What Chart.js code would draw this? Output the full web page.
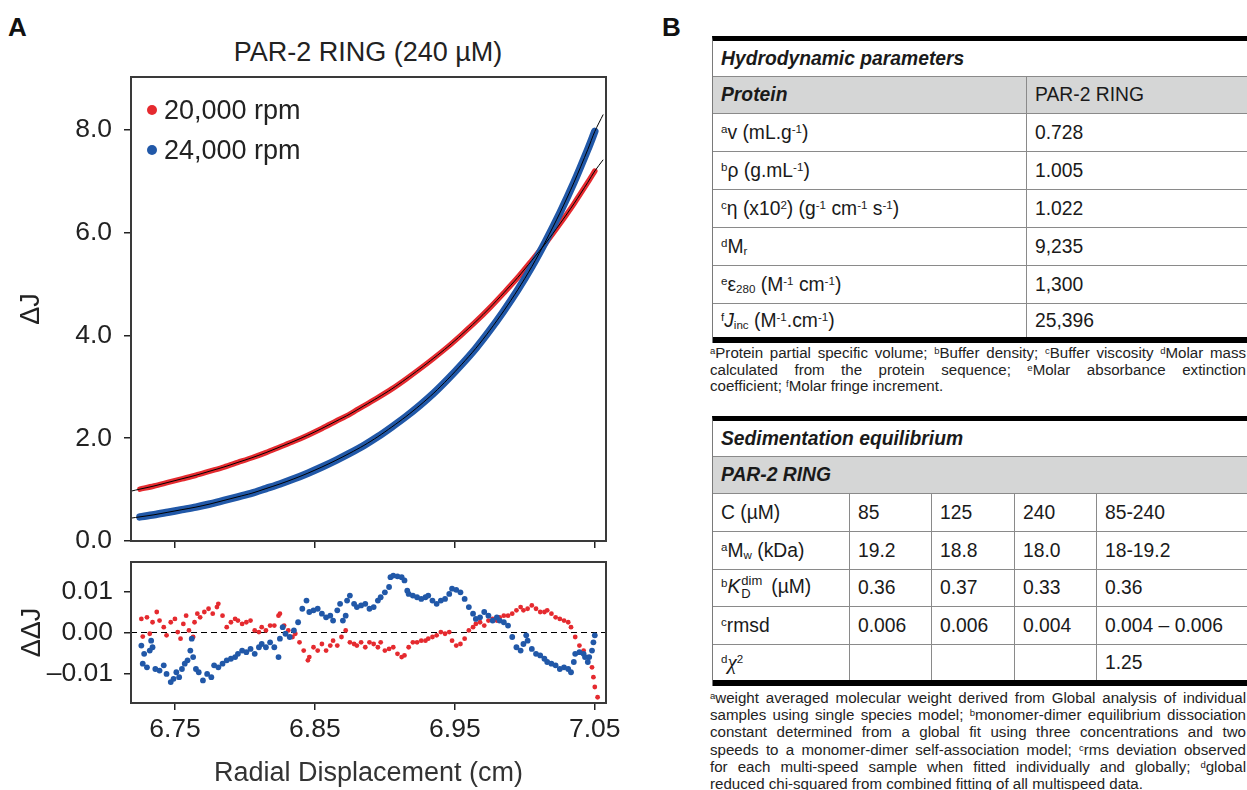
<!DOCTYPE html>
<html>
<head>
<meta charset="utf-8">
<title>PAR-2 RING sedimentation equilibrium</title>
<script src="https://cdn.jsdelivr.net/npm/chart.js@4.4.1/dist/chart.umd.min.js"></script>
<style>
  body{margin:0;width:1247px;height:790px;position:relative;background:#fff;overflow:hidden;
       font-family:'Liberation Sans',Arial,sans-serif;color:#222;}
  canvas{position:absolute;left:0;}
  .panel{position:absolute;font-weight:bold;font-size:26px;line-height:26px;color:#111;}
  .title{position:absolute;left:0;width:736px;top:36px;text-align:center;font-size:27px;line-height:32px;color:#222;}
  .legend{position:absolute;left:147px;font-size:27px;line-height:32px;color:#222;white-space:nowrap;}
  .legend span.dot{display:inline-block;width:10px;height:10px;border-radius:50%;margin-right:7px;vertical-align:middle;position:relative;top:-2px;}
  .tbl{position:absolute;left:712px;width:535px;border-top:5px solid #000;border-left:1px solid #7a7a7a;font-size:19.3px;color:#1a1a1a;}
  .row{display:flex;box-sizing:border-box;border-bottom:1px solid #8a8a8a;height:38px;}
  .row.last{border-bottom:6px solid #000;}
  .row.grey{background:#d5d6d6;}
  .cell{box-sizing:border-box;height:100%;display:flex;align-items:center;padding-left:8px;white-space:nowrap;}
  .cell+.cell{border-left:1px solid #8a8a8a;}
  .bi{font-weight:bold;font-style:italic;}
  sup,sub{font-size:0.6em;line-height:0;}
  sup{vertical-align:0.55em;}
  sub{vertical-align:-0.2em;}
  .kd{display:inline-block;vertical-align:middle;line-height:1;font-size:13px;margin-left:1px;margin-right:9px;position:relative;top:-1px;}
  .kd span{display:block;}
  .note{position:absolute;left:710px;width:536px;font-size:15.1px;color:#222;}
  .note div{text-align:justify;text-align-last:justify;}
  .note div.end{text-align:left;text-align-last:left;}
  .note sup{font-size:9.5px;vertical-align:4px;}
</style>
</head>
<body>

<div class="panel" style="left:8px;top:14px;">A</div>
<div class="panel" style="left:662px;top:14px;">B</div>
<div class="title">PAR-2 RING (240 µM)</div>

<canvas id="main" width="640" height="560" style="top:0px;"></canvas>
<canvas id="resid" width="640" height="235" style="top:555px;"></canvas>

<div class="legend" style="top:94px;"><span class="dot" style="background:#e52a2f"></span>20,000 rpm</div>
<div class="legend" style="top:134px;"><span class="dot" style="background:#2158a8"></span>24,000 rpm</div>

<!-- Hydrodynamic parameters -->
<div class="tbl" style="top:36px;">
  <div class="row" style="height:36px;"><div class="cell bi"><span>Hydrodynamic parameters</span></div></div>
  <div class="row grey" style="height:37px;"><div class="cell bi" style="width:313px;"><span>Protein</span></div><div class="cell" style="flex:1;"><span>PAR-2 RING</span></div></div>
  <div class="row"><div class="cell" style="width:313px;"><span><sup>a</sup>v (mL.g<sup>-1</sup>)</span></div><div class="cell" style="flex:1;"><span>0.728</span></div></div>
  <div class="row"><div class="cell" style="width:313px;"><span><sup>b</sup>ρ (g.mL<sup>-1</sup>)</span></div><div class="cell" style="flex:1;"><span>1.005</span></div></div>
  <div class="row"><div class="cell" style="width:313px;"><span><sup>c</sup>η (x10<sup>2</sup>) (g<sup>-1</sup> cm<sup>-1</sup> s<sup>-1</sup>)</span></div><div class="cell" style="flex:1;"><span>1.022</span></div></div>
  <div class="row"><div class="cell" style="width:313px;"><span><sup>d</sup>M<sub>r</sub></span></div><div class="cell" style="flex:1;"><span>9,235</span></div></div>
  <div class="row"><div class="cell" style="width:313px;"><span><sup>e</sup>ε<sub>280</sub> (M<sup>-1</sup> cm<sup>-1</sup>)</span></div><div class="cell" style="flex:1;"><span>1,300</span></div></div>
  <div class="row last" style="height:39px;"><div class="cell" style="width:313px;"><span><sup>f</sup><i>J</i><sub>inc</sub> (M<sup>-1</sup>.cm<sup>-1</sup>)</span></div><div class="cell" style="flex:1;"><span>25,396</span></div></div>
</div>
<div class="note" style="top:345px;line-height:16.7px;">
  <div><sup>a</sup>Protein partial specific volume; <sup>b</sup>Buffer density; <sup>c</sup>Buffer viscosity <sup>d</sup>Molar mass</div>
  <div>calculated from the protein sequence; <sup>e</sup>Molar absorbance extinction</div>
  <div class="end">coefficient; <sup>f</sup>Molar fringe increment.</div>
</div>

<!-- Sedimentation equilibrium -->
<div class="tbl" style="top:416px;">
  <div class="row" style="height:36px;"><div class="cell bi"><span>Sedimentation equilibrium</span></div></div>
  <div class="row grey" style="height:37px;"><div class="cell bi"><span>PAR-2 RING</span></div></div>
  <div class="row"><div class="cell" style="width:136px;"><span>C (µM)</span></div><div class="cell" style="width:82px;"><span>85</span></div><div class="cell" style="width:83px;"><span>125</span></div><div class="cell" style="width:82px;"><span>240</span></div><div class="cell" style="flex:1;"><span>85-240</span></div></div>
  <div class="row"><div class="cell" style="width:136px;"><span><sup>a</sup>M<sub>w</sub> (kDa)</span></div><div class="cell" style="width:82px;"><span>19.2</span></div><div class="cell" style="width:83px;"><span>18.8</span></div><div class="cell" style="width:82px;"><span>18.0</span></div><div class="cell" style="flex:1;"><span>18-19.2</span></div></div>
  <div class="row" style="height:37px;"><div class="cell" style="width:136px;"><span><sup>b</sup><i>K</i><span class="kd"><span>dim</span><span>D</span></span>(µM)</span></div><div class="cell" style="width:82px;"><span>0.36</span></div><div class="cell" style="width:83px;"><span>0.37</span></div><div class="cell" style="width:82px;"><span>0.33</span></div><div class="cell" style="flex:1;"><span>0.36</span></div></div>
  <div class="row"><div class="cell" style="width:136px;"><span><sup>c</sup>rmsd</span></div><div class="cell" style="width:82px;"><span>0.006</span></div><div class="cell" style="width:83px;"><span>0.006</span></div><div class="cell" style="width:82px;"><span>0.004</span></div><div class="cell" style="flex:1;"><span>0.004 – 0.006</span></div></div>
  <div class="row last" style="height:41px;"><div class="cell" style="width:136px;"><span><sup>d</sup><i style="font-family:'Liberation Serif',serif;font-size:21px;">χ</i><sup>2</sup></span></div><div class="cell" style="width:82px;"></div><div class="cell" style="width:83px;"></div><div class="cell" style="width:82px;"></div><div class="cell" style="flex:1;"><span>1.25</span></div></div>
</div>
<div class="note" style="top:689px;line-height:17.2px;">
  <div><sup>a</sup>weight averaged molecular weight derived from Global analysis of individual</div>
  <div>samples using single species model; <sup>b</sup>monomer-dimer equilibrium dissociation</div>
  <div>constant determined from a global fit using three concentrations and two</div>
  <div>speeds to a monomer-dimer self-association model; <sup>c</sup>rms deviation observed</div>
  <div>for each multi-speed sample when fitted individually and globally; <sup>d</sup>global</div>
  <div class="end">reduced chi-squared from combined fitting of all multispeed data.</div>
</div>

<script>
// === данные: радиус (cm) и ΔJ для двух скоростей ===
const radius=[6.725,6.735,6.745,6.755,6.765,6.775,6.785,6.795,6.805,6.815,6.825,6.835,6.845,6.855,6.865,6.875,6.885,
  6.895,6.905,6.915,6.925,6.935,6.945,6.955,6.965,6.975,6.985,6.995,7.005,7.015,7.025,7.035,7.045,7.05];
const dj20k=[1.01,1.07,1.14,1.21,1.28,1.36,1.44,1.53,1.62,1.72,1.83,1.94,2.06,2.19,2.33,2.47,2.63,
  2.79,2.96,3.15,3.35,3.56,3.78,4.02,4.27,4.54,4.83,5.13,5.46,5.80,6.17,6.56,6.98,7.20];
const dj24k=[0.47,0.51,0.56,0.61,0.66,0.72,0.79,0.86,0.93,1.02,1.11,1.21,1.32,1.44,1.57,1.71,1.86,
  2.03,2.22,2.42,2.64,2.88,3.15,3.44,3.75,4.10,4.48,4.89,5.34,5.84,6.38,6.97,7.62,7.97];
// fit line runs a little past the data at both ends
const fitRadiusEnds=[6.7186,7.056];
const fit20kEnds=[0.97,7.42];
const fit24kEnds=[0.445,8.30];

// === остатки (radius, ΔΔJ) ===
const res20k=[[6.726,0.0033],[6.727,-0.0010],[6.730,0.0037],[6.732,-0.0003],[6.734,0.0025],[6.737,0.0050],[6.739,0.0029],
  [6.742,0.0013],[6.744,-0.0007],[6.747,0.0025],[6.750,0.0033],[6.752,0.0001],[6.754,-0.0015],[6.756,0.0021],[6.758,0.0041],
  [6.760,0.0005],[6.763,-0.0011],[6.764,0.0025],[6.766,0.0046],[6.768,0.0037],[6.771,0.0050],[6.774,0.0058],[6.777,0.0046],
  [6.780,0.0062],[6.781,0.0070],[6.784,0.0041],[6.787,0.0013],[6.790,0.0025],[6.793,0.0033],[6.795,0.0029],[6.798,0.0021],
  [6.801,0.0025],[6.804,0.0029],[6.807,0.0005],[6.810,0.0001],[6.812,0.0013],[6.815,0.0005],[6.818,0.0017],[6.821,0.0017],
  [6.824,0.0041],[6.825,0.0046],[6.828,0.0017],[6.831,0.0005],[6.834,-0.0011],[6.836,-0.0003],[6.839,-0.0024],[6.842,-0.0044],
  [6.845,-0.0068],[6.846,-0.0060],[6.849,-0.0036],[6.852,-0.0044],[6.855,-0.0028],[6.858,-0.0044],[6.861,-0.0032],[6.863,-0.0020],
  [6.866,-0.0032],[6.869,-0.0011],[6.872,0.0005],[6.875,-0.0024],[6.878,-0.0028],[6.880,-0.0032],[6.883,-0.0024],[6.886,-0.0036],
  [6.889,-0.0024],[6.892,-0.0028],[6.895,-0.0036],[6.897,-0.0024],[6.900,-0.0044],[6.903,-0.0040],[6.906,-0.0036],[6.909,-0.0052],
  [6.912,-0.0060],[6.914,-0.0056],[6.917,-0.0036],[6.920,-0.0024],[6.923,-0.0024],[6.926,-0.0020],[6.929,-0.0020],[6.931,-0.0015],
  [6.934,-0.0011],[6.937,-0.0007],[6.940,0.0001],[6.943,-0.0003],[6.946,0.0001],[6.948,-0.0020],[6.951,-0.0032],[6.954,-0.0028],
  [6.957,-0.0015],[6.960,0.0005],[6.963,0.0013],[6.965,0.0021],[6.968,0.0025],[6.971,0.0017],[6.974,0.0029],[6.977,0.0033],
  [6.980,0.0029],[6.982,0.0037],[6.985,0.0041],[6.988,0.0041],[6.991,0.0046],[6.994,0.0054],[6.997,0.0062],[6.999,0.0054],
  [7.002,0.0058],[7.005,0.0066],[7.008,0.0058],[7.011,0.0050],[7.014,0.0050],[7.016,0.0054],[7.019,0.0046],[7.022,0.0037],
  [7.025,0.0033],[7.028,0.0029],[7.031,0.0025],[7.033,0.0013],[7.036,-0.0011],[7.039,-0.0032],[7.042,-0.0044],[7.045,-0.0060],
  [7.048,-0.0085],[7.049,-0.0109],[7.050,-0.0133],[7.052,-0.0158]];
const res24k=[[6.726,-0.0032],[6.727,-0.0076],[6.728,-0.0052],[6.730,-0.0085],[6.732,-0.0044],[6.733,-0.0020],[6.734,-0.0036],
  [6.736,-0.0089],[6.739,-0.0093],[6.742,-0.0080],[6.744,-0.0101],[6.747,-0.0121],[6.749,-0.0113],[6.751,-0.0097],[6.753,-0.0109],
  [6.755,-0.0089],[6.757,-0.0076],[6.759,-0.0068],[6.761,-0.0044],[6.762,-0.0015],[6.763,-0.0060],[6.765,-0.0089],[6.767,-0.0097],
  [6.770,-0.0117],[6.773,-0.0101],[6.776,-0.0109],[6.778,-0.0080],[6.781,-0.0085],[6.784,-0.0076],[6.787,-0.0068],[6.790,-0.0064],
  [6.793,-0.0060],[6.795,-0.0052],[6.798,-0.0044],[6.801,-0.0048],[6.804,-0.0040],[6.807,-0.0052],[6.810,-0.0036],[6.812,-0.0028],
  [6.815,-0.0036],[6.818,-0.0024],[6.821,-0.0036],[6.824,-0.0060],[6.825,-0.0015],[6.827,0.0013],[6.829,-0.0003],[6.832,-0.0011],
  [6.835,0.0005],[6.838,0.0025],[6.841,0.0058],[6.844,0.0078],[6.846,0.0050],[6.849,0.0054],[6.852,0.0058],[6.855,0.0046],
  [6.858,0.0037],[6.861,0.0041],[6.863,0.0029],[6.866,0.0054],[6.868,0.0070],[6.870,0.0029],[6.872,0.0041],[6.873,0.0078],
  [6.875,0.0090],[6.878,0.0070],[6.880,0.0062],[6.883,0.0066],[6.886,0.0070],[6.889,0.0058],[6.892,0.0062],[6.895,0.0078],
  [6.897,0.0086],[6.900,0.0098],[6.903,0.0111],[6.904,0.0135],[6.906,0.0139],[6.909,0.0137],[6.912,0.0135],[6.914,0.0127],
  [6.916,0.0102],[6.917,0.0094],[6.920,0.0090],[6.923,0.0086],[6.926,0.0082],[6.929,0.0086],[6.931,0.0090],[6.934,0.0078],
  [6.937,0.0070],[6.940,0.0078],[6.943,0.0082],[6.946,0.0094],[6.948,0.0107],[6.951,0.0104],[6.954,0.0098],[6.957,0.0082],
  [6.960,0.0062],[6.963,0.0046],[6.965,0.0033],[6.968,0.0037],[6.971,0.0050],[6.974,0.0041],[6.977,0.0029],[6.980,0.0037],
  [6.982,0.0029],[6.985,0.0025],[6.988,0.0017],[6.991,-0.0011],[6.994,-0.0036],[6.997,-0.0044],[6.999,-0.0028],[7.001,-0.0007],
  [7.002,-0.0020],[7.005,-0.0040],[7.008,-0.0052],[7.011,-0.0056],[7.014,-0.0064],[7.016,-0.0072],[7.019,-0.0076],[7.022,-0.0080],
  [7.025,-0.0089],[7.028,-0.0085],[7.031,-0.0089],[7.033,-0.0097],[7.035,-0.0072],[7.036,-0.0052],[7.039,-0.0048],[7.042,-0.0052],
  [7.043,-0.0060],[7.045,-0.0072],[7.046,-0.0060],[7.048,-0.0044],[7.049,-0.0024],[7.050,-0.0007]];

// === оси ===
const xRange=[6.7186,7.058];
const xTicks=[6.75,6.85,6.95,7.05];
const xTickLabels=['6.75','6.85','6.95','7.05'];
const djRange=[0,9.03];
const djTicks=[0,2,4,6,8];
const djTickLabels=['0.0','2.0','4.0','6.0','8.0'];
const resRange=[-0.0172,0.0172];
const resTicks=[-0.01,0,0.01];
const resTickLabels=['\u20130.01','0.00','0.01'];

const RED='#e52a2f', BLUE='#2158a8';
Chart.defaults.font.family="'Liberation Sans', Arial, sans-serif";
Chart.defaults.color='#222';

function pts(xs,ys){ return xs.map((x,i)=>({x:x,y:ys[i]})); }
function fixTicks(vals){ return s=>{ s.ticks=vals.map(v=>({value:v})); }; }
function tickText(vals,labels){ return v=>labels[vals.indexOf(v)]; }

// рамка вокруг области графика
const frame={
  id:'frame',
  afterDatasetsDraw(chart){
    const {ctx,chartArea:a}=chart;
    ctx.save();
    ctx.strokeStyle='#3a3a3a';ctx.lineWidth=2;
    ctx.strokeRect(a.left,a.top,a.right-a.left,a.bottom-a.top);
    ctx.restore();
  }
};
const tickGrid={drawOnChartArea:false,tickLength:7,color:'#222',lineWidth:1.5};

// === верхний график: ΔJ ===
const fitR=[fitRadiusEnds[0]].concat(radius,[fitRadiusEnds[1]]);
new Chart(document.getElementById('main'),{
  type:'line',
  data:{datasets:[
    {label:'fit 20,000 rpm',data:pts(fitR,[fit20kEnds[0]].concat(dj20k,[fit20kEnds[1]])),borderColor:'#000',borderWidth:1,pointRadius:0,tension:0.3,order:0},
    {label:'fit 24,000 rpm',data:pts(fitR,[fit24kEnds[0]].concat(dj24k,[fit24kEnds[1]])),borderColor:'#000',borderWidth:1,pointRadius:0,tension:0.3,order:0},
    {label:'24,000 rpm',data:pts(radius,dj24k),borderColor:BLUE,backgroundColor:BLUE,borderWidth:7.5,borderCapStyle:'round',pointRadius:0,tension:0.3,order:1},
    {label:'20,000 rpm',data:pts(radius,dj20k),borderColor:RED,backgroundColor:RED,borderWidth:5.5,borderCapStyle:'round',pointRadius:0,tension:0.3,order:2}
  ]},
  options:{
    responsive:false,animation:false,devicePixelRatio:1,
    layout:{padding:{top:77,right:34,left:0,bottom:0}},
    plugins:{legend:{display:false},tooltip:{enabled:false}},
    scales:{
      x:{type:'linear',min:xRange[0],max:xRange[1],afterBuildTicks:fixTicks(xTicks),
         ticks:{display:false},grid:tickGrid,border:{display:false},
         afterFit:s=>{s.height=19;s.paddingLeft=0;s.paddingRight=0;}},
      y:{type:'linear',min:djRange[0],max:djRange[1],afterBuildTicks:fixTicks(djTicks),
         ticks:{font:{size:26.5},padding:12,color:'#222',callback:tickText(djTicks,djTickLabels)},
         title:{display:true,text:'ΔJ',font:{size:27},color:'#222',padding:{top:15,bottom:0}},
         grid:tickGrid,border:{display:false},
         afterFit:s=>{s.width=131;s.paddingTop=0;s.paddingBottom=0;}}
    }
  },
  plugins:[frame]
});

// === нижний график: остатки ΔΔJ ===
new Chart(document.getElementById('resid'),{
  type:'scatter',
  data:{datasets:[
    {label:'24,000 rpm',data:res24k.map(p=>({x:p[0],y:p[1]})),backgroundColor:BLUE,borderWidth:0,pointRadius:2.9,order:0},
    {label:'20,000 rpm',data:res20k.map(p=>({x:p[0],y:p[1]})),backgroundColor:RED,borderWidth:0,pointRadius:2.4,order:1},
    {type:'line',label:'zero',data:[{x:xRange[0],y:0},{x:xRange[1],y:0}],borderColor:'#000',borderWidth:1.2,borderDash:[6,4],pointRadius:0,order:2}
  ]},
  options:{
    responsive:false,animation:false,devicePixelRatio:1,
    layout:{padding:{top:7,right:34,left:0,bottom:0}},
    plugins:{legend:{display:false},tooltip:{enabled:false}},
    scales:{
      x:{type:'linear',min:xRange[0],max:xRange[1],afterBuildTicks:fixTicks(xTicks),
         ticks:{font:{size:26.5},padding:4,color:'#222',maxRotation:0,callback:tickText(xTicks,xTickLabels)},
         title:{display:true,text:'Radial Displacement (cm)',font:{size:27},color:'#333',padding:{top:0,bottom:0}},
         grid:tickGrid,border:{display:false},
         afterFit:s=>{s.height=87;s.paddingLeft=0;s.paddingRight=0;}},
      y:{type:'linear',min:resRange[0],max:resRange[1],afterBuildTicks:fixTicks(resTicks),
         ticks:{font:{size:26.5},padding:11,color:'#222',callback:tickText(resTicks,resTickLabels)},
         title:{display:true,text:'ΔΔJ',font:{size:27},color:'#222',padding:{top:16,bottom:0}},
         grid:tickGrid,border:{display:false},
         afterFit:s=>{s.width=131;s.paddingTop=0;s.paddingBottom=0;}}
    }
  },
  plugins:[frame]
});
</script>
</body>
</html>
